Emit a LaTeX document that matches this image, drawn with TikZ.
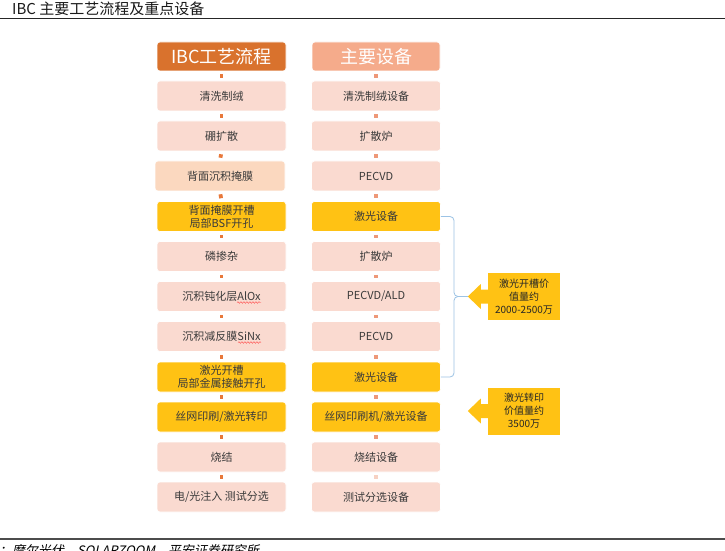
\documentclass[tikz,border=0pt]{standalone}
\usepackage{fontspec}
\setmainfont{Liberation Sans}
\newfontfamily\cjk{Noto Sans CJK SC}
\newfontfamily\cjkit[FakeSlant=0.2]{Noto Sans CJK SC}
\usetikzlibrary{decorations.pathmorphing}
\definecolor{hdrL}{HTML}{D9722D}
\definecolor{hdrR}{HTML}{F5AB8B}
\definecolor{pinkbox}{HTML}{FADAD0}
\definecolor{peach}{HTML}{FBD8BF}
\definecolor{yel}{HTML}{FFC214}
\definecolor{txt}{HTML}{3A3A3A}
\definecolor{dotL}{HTML}{E8783A}
\definecolor{dotR}{HTML}{EE9878}
\definecolor{brk}{HTML}{9CC3E5}
\begin{document}
\begin{tikzpicture}[x=1bp,y=-1bp,
  box/.style={rectangle, rounded corners=3bp, minimum width=129bp, minimum height=30bp, inner sep=1bp, align=center, text=txt, font=\cjk\fontsize{11bp}{13bp}\selectfont, draw=white, line width=0.6bp},
  pk/.style={box, fill=pinkbox},
  pc/.style={box, fill=peach},
  yl/.style={box, fill=yel},
  hd/.style={box, minimum height=29bp, text=white, font=\cjk\fontsize{18bp}{21bp}\selectfont},
  lkL/.style={draw=dotL, line width=3.8bp, shorten <=3bp, shorten >=3bp},
  lkR/.style={draw=dotR, line width=3.8bp, shorten <=3bp, shorten >=3bp},
  call/.style={rectangle, fill=yel, minimum width=72bp, minimum height=47bp, inner sep=1bp, align=center, text=black!85, font=\cjk\fontsize{10bp}{13bp}\selectfont},
  brace/.style={draw=brk, line width=0.8bp, rounded corners=4bp},
  wavy/.style={draw=red!75, line width=0.4bp, decorate, decoration={snake, amplitude=0.8bp, segment length=3bp}}
]
\useasboundingbox (0,0) rectangle (725,551);
\fill[white] (0,0) rectangle (725,551);

% title and rules
\node[anchor=base west, inner sep=0, text=black!90, font=\cjk\fontsize{15bp}{17bp}\selectfont] (title) at (12,15) {IBC 主要工艺流程及重点设备};
\draw[line width=1.6bp, black!85] (0,18.6) -- (725,18.6);
\draw[line width=2bp, black!70] (0,538.5) -- (725,538.5);
\node[anchor=base west, inner sep=0, text=black, font=\cjkit\fontsize{13bp}{15bp}\selectfont] (src) at (-1,555) {：摩尔光伏，SOLARZOOM，平安证券研究所};

% headers
\node[hd, fill=hdrL] (hl) at (221.5,56.5) {IBC工艺流程};
\node[hd, fill=hdrR, minimum width=128bp] (hr) at (376,56.5) {主要设备};

% left column
\node[pk] (l1) at (221.5,96) {清洗制绒};
\node[pk] (l2) at (221.5,136) {硼扩散};
\node[pc, minimum width=130bp] (l3) at (220,176) {背面沉积掩膜};
\node[yl] (l4) at (221.5,216.5) {背面掩膜开槽\\局部BSF开孔};
\node[pk] (l5) at (221.5,256.5) {磷掺杂};
\node[pk] (l6) at (221.5,296.5) {沉积钝化层AlOx};
\node[pk] (l7) at (221.5,336.5) {沉积减反膜SiNx};
\node[yl] (l8) at (221.5,377) {激光开槽\\局部金属接触开孔};
\node[yl] (l9) at (221.5,417) {丝网印刷/激光转印};
\node[pk] (l10) at (221.5,457) {烧结};
\node[pk] (l11) at (221.5,497) {电/光注入 测试分选};

% spell-check underlines
\draw[wavy] (237,302.5) -- (261,302.5);
\draw[wavy] (238,342.5) -- (261,342.5);

% right column
\begin{scope}[every node/.append style={minimum width=128bp}]
\node[pk] (r1) at (376,96) {清洗制绒设备};
\node[pk] (r2) at (376,136) {扩散炉};
\node[pk] (r3) at (376,176) {PECVD};
\node[yl] (r4) at (376,216.5) {激光设备};
\node[pk] (r5) at (376,256.5) {扩散炉};
\node[pk] (r6) at (376,296.5) {PECVD/ALD};
\node[pk] (r7) at (376,336.5) {PECVD};
\node[yl] (r8) at (376,377) {激光设备};
\node[yl] (r9) at (376,417) {丝网印刷机/激光设备};
\node[pk] (r10) at (376,457) {烧结设备};
\node[pk] (r11) at (376,497) {测试分选设备};
\end{scope}

% connectors
\foreach \a/\b in {hl/l1,l1/l2,l2/l3,l3/l4,l4/l5,l5/l6,l6/l7,l7/l8,l8/l9,l9/l10,l10/l11}
  \draw[lkL] (\a.south) -- (\b.north);
\foreach \a/\b in {hr/r1,r1/r2,r2/r3,r3/r4,r4/r5,r5/r6,r6/r7,r7/r8,r8/r9,r9/r10}
  \draw[lkR] (\a.south) -- (\b.north);
\draw[lkR, draw=dotR!45] (r10.south) -- (r11.north);

% callouts
\node[call] (c1) at (524,296.5) {激光开槽价\\值量约\\2000-2500万};
\fill[yel] (c1.west) ++(0.5,-7) -- ++(-7.5,0) -- ++(0,-5.5) -- ++(-13,12.5) coordinate (t1) -- ++(13,12.5) -- ++(0,-5.5) -- ++(7.5,0) -- cycle;
\node[call] (c2) at (524,411) {激光转印\\价值量约\\3500万};
\fill[yel] (c2.west) ++(0.5,-7) -- ++(-7.5,0) -- ++(0,-5.5) -- ++(-13,12.5) coordinate (t2) -- ++(13,12.5) -- ++(0,-5.5) -- ++(7.5,0) -- cycle;

% bracket
\draw[brace] (r4.east) -- (454,216.5) -- (454,296.5) -- (t1);
\draw[brace] (r8.east) -- (454,377) -- (454,296.5) -- (t1);
\end{tikzpicture}
\end{document}
